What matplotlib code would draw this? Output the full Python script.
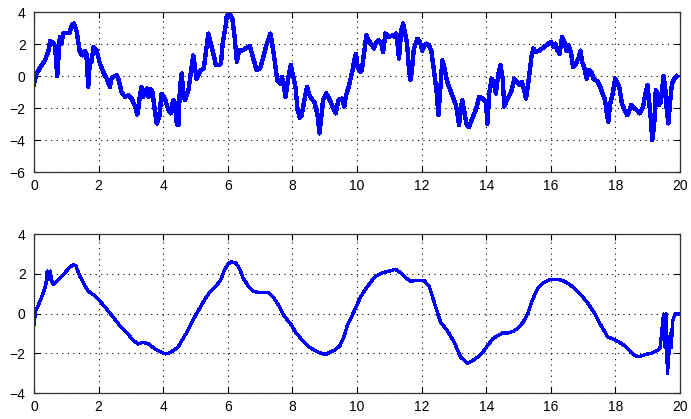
import matplotlib
matplotlib.use("Agg")
import matplotlib.pyplot as plt

# Raw (noisy) signal
t_raw = [0.0, 0.08, 0.24, 0.34, 0.45, 0.5, 0.58, 0.65, 0.72, 0.8, 0.85, 0.9, 1.0, 1.1,
         1.17, 1.24, 1.32, 1.42, 1.5, 1.57, 1.62, 1.68, 1.73, 1.78, 1.84, 1.94, 2.04,
         2.14, 2.25, 2.35, 2.4, 2.45, 2.56, 2.61, 2.71, 2.82, 2.92, 3.02, 3.13, 3.2,
         3.26, 3.33, 3.38, 3.49, 3.54, 3.61, 3.67, 3.75, 3.8, 3.88, 3.95, 4.05, 4.16,
         4.23, 4.31, 4.36, 4.42, 4.47, 4.52, 4.57, 4.62, 4.67, 4.78, 4.88, 4.93, 4.98,
         5.03, 5.08, 5.16, 5.26, 5.32, 5.4, 5.47, 5.58, 5.63, 5.74, 5.79, 5.84, 5.93,
         5.97, 6.05, 6.14, 6.21, 6.28, 6.35, 6.42, 6.53, 6.68, 6.79, 6.89, 7.0, 7.1,
         7.21, 7.32, 7.4, 7.47, 7.53, 7.63, 7.68, 7.74, 7.79, 7.86, 7.95, 8.03, 8.1,
         8.16, 8.23, 8.29, 8.37, 8.45, 8.53, 8.63, 8.68, 8.77, 8.84, 8.9, 8.95, 9.05,
         9.16, 9.26, 9.34, 9.42, 9.53, 9.61, 9.65, 9.74, 9.84, 9.93, 9.97, 10.02, 10.1,
         10.15, 10.23, 10.29, 10.36, 10.47, 10.52, 10.6, 10.67, 10.75, 10.81, 10.88,
         10.98, 11.09, 11.16, 11.22, 11.3, 11.37, 11.43, 11.5, 11.55, 11.61, 11.66,
         11.71, 11.76, 11.87, 11.95, 12.02, 12.09, 12.16, 12.23, 12.3, 12.38, 12.47,
         12.52, 12.57, 12.64, 12.69, 12.78, 12.85, 12.95, 13.06, 13.11, 13.16, 13.21,
         13.26, 13.34, 13.4, 13.47, 13.58, 13.68, 13.78, 13.89, 13.99, 14.04, 14.09,
         14.17, 14.23, 14.3, 14.37, 14.44, 14.51, 14.56, 14.66, 14.77, 14.87, 14.95,
         15.05, 15.1, 15.15, 15.23, 15.27, 15.33, 15.4, 15.46, 15.54, 15.64, 15.77,
         15.87, 16.0, 16.08, 16.14, 16.21, 16.27, 16.35, 16.42, 16.48, 16.55, 16.63,
         16.69, 16.76, 16.87, 16.92, 16.97, 17.03, 17.11, 17.18, 17.26, 17.32, 17.39,
         17.45, 17.53, 17.6, 17.68, 17.74, 17.78, 17.84, 17.92, 17.99, 18.07, 18.13,
         18.2, 18.28, 18.37, 18.44, 18.49, 18.58, 18.65, 18.75, 18.86, 18.91, 18.99,
         19.03, 19.1, 19.14, 19.2, 19.25, 19.31, 19.35, 19.41, 19.49, 19.54, 19.59,
         19.64, 19.7, 19.75, 19.83, 19.9]
y_raw = [-0.5, 0.17, 0.7, 1.0, 1.6, 2.2, 2.1, 1.9, 0.0, 2.45, 2.0, 2.67, 2.7, 2.7,
         3.2, 3.3, 2.8, 1.5, 1.3, 1.6, 1.4, -0.67, 1.0, 0.9, 1.8, 1.6, 0.8,
         0.27, -0.15, -0.67, -0.15, -0.05, 0.06, -0.15, -1.0, -1.3, -1.2, -1.4, -1.9, -2.4,
         -1.5, -0.67, -1.3, -0.77, -1.3, -0.8, -1.0, -2.33, -2.96, -2.5, -1.1, -1.4, -2.1,
         -2.33, -1.5, -1.7, -2.96, -3.06, -0.67, 0.17, -0.9, -1.5, -0.9, 0.58, 1.3, 0.6,
         -0.15, 0.06, 0.38, 0.48, 1.5, 2.67, 2.04, 1.2, 0.7, 0.7, 0.8, 2.04, 3.1,
         3.8, 3.9, 3.6, 2.46, 0.9, 1.6, 1.6, 1.7, 1.9, 1.1, 0.38, 0.48, 1.2,
         2.04, 2.67, 1.7, 0.7, -0.25, -0.46, -0.05, -0.67, -1.3, -0.25, 0.7, -0.05, -0.77,
         -2.1, -2.6, -2.44, -1.5, -0.67, -1.2, -1.5, -1.6, -2.33, -3.58, -2.44, -1.5, -1.08,
         -1.5, -2.0, -2.33, -1.5, -1.4, -1.9, -1.3, -0.67, 0.17, 1.1, 1.4, 0.58, 0.27,
         0.38, 1.6, 2.56, 2.25, 1.94, 1.73, 2.15, 2.25, 2.04, 1.5, 2.67,
         2.46, 2.56, 2.46, 2.67, 1.1, 2.88, 3.3, 2.56, 2.04, 0.38, -0.25,
         0.58, 1.7, 2.35, 2.15, 1.6, 1.94, 2.04, 1.94, 1.6, 0.38, -1.08,
         -2.44, -1.08, 1.0, 0.7, -0.25, -0.67, -1.2, -1.8, -2.33, -3.06, -2.1,
         -1.5, -2.44, -3.06, -3.17, -2.6, -2.1, -1.3, -1.4, -1.6, -2.96, -1.08,
         -0.15, -0.35, -1.08, 0.06, 0.7, -0.15, -1.9, -1.4, -1.0, -0.15, -0.35,
         -0.55, -0.35, -0.65, -1.4, -0.88, 0.0, 1.2, 1.73, 1.52, 1.6, 1.8,
         1.94, 2.15, 1.85, 2.04, 1.6, 1.4, 2.46, 2.15, 1.6, 1.94, 1.4,
         0.58, 0.7, 1.2, 1.6, 0.9, 0.58, -0.15, 0.38, 0.27, -0.15, -0.25,
         -0.35, -0.67, -1.08, -1.5, -2.44, -2.85, -1.7, -1.08, -0.15, -0.46, -0.77,
         -1.7, -2.1, -2.44, -2.1, -1.8, -2.02, -2.1, -2.33, -1.9, -1.3, -0.56,
         -1.3, -2.75, -4.0, -3.06, -0.88, -1.08, -1.8, -1.6, 0.0, -0.67, -2.1,
         -2.96, -1.5, -0.46, -0.15, 0.0]

# Smoothed signal
t_smooth = [0.0, 0.05, 0.17, 0.29, 0.37, 0.41, 0.45, 0.5, 0.55, 0.6, 0.7, 0.86, 0.96,
            1.09, 1.22, 1.3, 1.42, 1.58, 1.68, 1.89, 2.04, 2.25, 2.46, 2.66, 2.87, 3.08,
            3.23, 3.38, 3.54, 3.75, 3.9, 4.06, 4.16, 4.31, 4.47, 4.6, 4.73, 4.85, 5.0,
            5.16, 5.32, 5.47, 5.68, 5.79, 5.89, 6.0, 6.1, 6.24, 6.35, 6.47, 6.63, 6.79,
            6.95, 7.1, 7.26, 7.42, 7.58, 7.74, 7.95, 8.1, 8.32, 8.53, 8.74, 8.89, 9.02,
            9.16, 9.32, 9.47, 9.6, 9.7, 9.79, 9.95, 10.1, 10.26, 10.41, 10.57, 10.78,
            10.98, 11.19, 11.35, 11.5, 11.66, 11.87, 12.07, 12.23, 12.33, 12.44, 12.59,
            12.8, 13.01, 13.21, 13.42, 13.58, 13.73, 13.89, 14.04, 14.2, 14.35, 14.51,
            14.66, 14.83, 14.98, 15.14, 15.3, 15.4, 15.51, 15.61, 15.77, 15.98, 16.19,
            16.35, 16.5, 16.71, 16.92, 17.13, 17.34, 17.5, 17.65, 17.76, 17.92, 18.13,
            18.28, 18.44, 18.6, 18.75, 18.91, 19.12, 19.28, 19.38, 19.43, 19.49, 19.54,
            19.57, 19.61, 19.64, 19.7, 19.73, 19.77, 19.85, 19.94]
y_smooth = [-0.53, 0.13, 0.55, 1.05, 1.47, 2.13, 1.72, 2.13, 1.63, 1.47, 1.63, 1.88, 2.05,
            2.3, 2.47, 2.38, 1.88, 1.38, 1.13, 0.88, 0.63, 0.22, -0.2, -0.62, -0.95, -1.37,
            -1.53, -1.45, -1.53, -1.78, -1.92, -2.03, -2.0, -1.87, -1.67, -1.3, -0.95, -0.55, -0.1,
            0.35, 0.8, 1.13, 1.47, 1.72, 2.17, 2.47, 2.6, 2.55, 2.3, 1.8, 1.38, 1.13,
            1.05, 1.05, 1.05, 0.8, 0.38, -0.12, -0.53, -0.95, -1.37, -1.7, -1.9, -2.0, -2.07,
            -1.95, -1.83, -1.62, -1.15, -0.6, -0.3, 0.25, 0.8, 1.22, 1.55, 1.88, 2.05,
            2.13, 2.22, 2.05, 1.8, 1.63, 1.67, 1.67, 1.38, 0.88, 0.3, -0.45,
            -0.87, -1.45, -2.2, -2.5, -2.37, -2.2, -1.95, -1.62, -1.28, -1.12, -0.98,
            -0.98, -0.9, -0.75, -0.45, 0.05, 0.55, 0.97, 1.3, 1.55, 1.72, 1.72,
            1.67, 1.55, 1.3, 0.97, 0.55, 0.05, -0.45, -0.87, -1.17, -1.28, -1.45,
            -1.62, -1.87, -2.12, -2.17, -2.07, -2.0, -1.87, -1.75, -1.03, -0.03, -1.7,
            -0.03, -3.03, -2.37, -1.03, -1.7, -0.37, -0.03, -0.03]

x_ticks = [0, 2, 4, 6, 8, 10, 12, 14, 16, 18, 20]
y_ticks_raw = [-6, -4, -2, 0, 2, 4]
y_ticks_smooth = [-4, -2, 0, 2, 4]

plt.rcParams['font.family'] = ['Liberation Sans', 'DejaVu Sans']
plt.rcParams['font.size'] = 10

fig = plt.figure(figsize=(6.91, 4.19), dpi=100)
W, H = 691.0, 419.0


def style_axes(ax, yticks, ylim):
    ax.set_xlim(0, 20)
    ax.set_ylim(*ylim)
    ax.set_xticks(x_ticks)
    ax.set_yticks(yticks)
    ax.grid(True, color='black', linestyle=(0, (1, 4)), linewidth=0.8)
    ax.tick_params(direction='in', length=4, width=0.8, top=True, right=True,
                   labelsize=10, colors='black')
    ax.tick_params(axis='y', pad=6)
    ax.tick_params(axis='x', pad=5)
    for sp in ax.spines.values():
        sp.set_color('#333333')
        sp.set_linewidth(0.9)


ax1 = fig.add_axes([34 / W, 1 - 172 / H, (680 - 34) / W, (172 - 12.3) / H])
ax1.plot(t_raw, y_raw, color='#0000ff', linewidth=2.4, antialiased=False)
style_axes(ax1, y_ticks_raw, (-6, 4))

ax2 = fig.add_axes([34 / W, 1 - 393 / H, (680 - 34) / W, (393 - 234) / H])
ax2.plot(t_smooth, y_smooth, color='#0000ff', linewidth=1.7, antialiased=False)
style_axes(ax2, y_ticks_smooth, (-4, 4))

fig.savefig('out.png', dpi=100)
